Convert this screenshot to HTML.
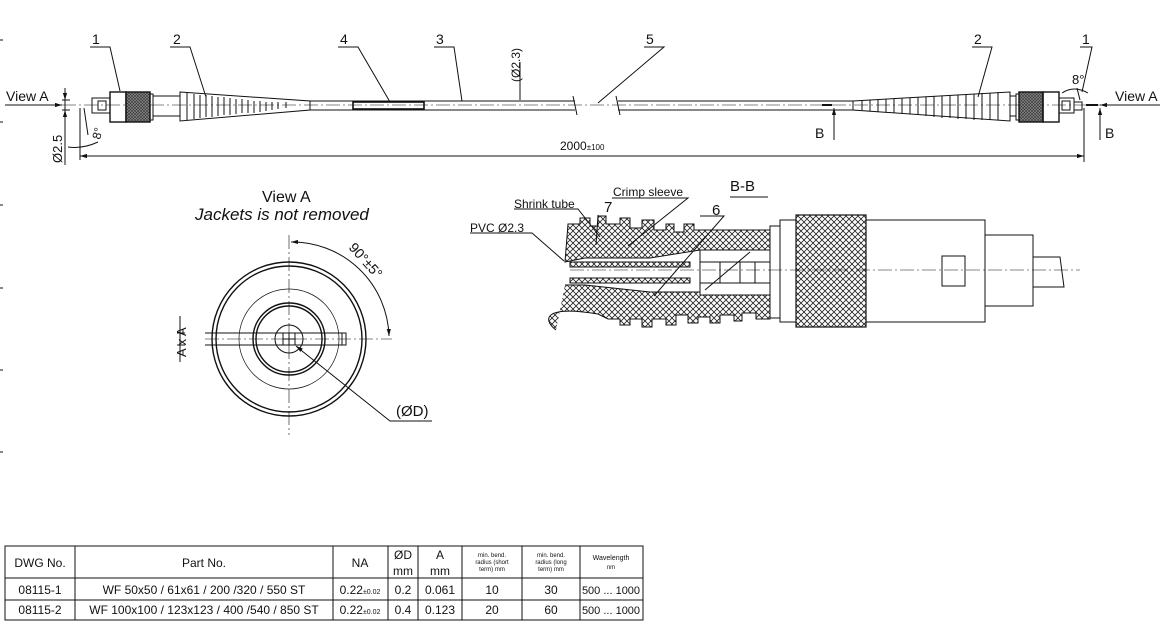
<!DOCTYPE html>
<html><head><meta charset="utf-8"><style>
body{margin:0;background:#fff;width:1166px;height:627px;overflow:hidden}
svg{display:block}
text{font-family:"Liberation Sans",sans-serif;fill:#111}
</style></head><body>
<svg width="1166" height="627" viewBox="0 0 1166 627" xmlns="http://www.w3.org/2000/svg">
<defs>
<pattern id="h" width="6" height="6" patternUnits="userSpaceOnUse"><rect width="6" height="6" fill="#fff"/><path d="M0,6L6,0M0,0L6,6" stroke="#222" stroke-width="0.8"/></pattern>
<pattern id="k" width="3" height="3" patternUnits="userSpaceOnUse"><rect width="3" height="3" fill="#888"/><path d="M0,3L3,0M0,0L3,3" stroke="#333" stroke-width="0.6"/></pattern>
<marker id="a" viewBox="0 0 10 10" refX="10" refY="5" markerWidth="7" markerHeight="7" orient="auto-start-reverse"><path d="M0,2L10,5L0,8z" fill="#111"/></marker>
</defs>
<g stroke="#111" fill="none" stroke-width="1">
<path d="M0,40h3M0,122h3M0,205h3M0,288h3M0,370h3M0,452h3"/>
<path d="M62,105H1110" stroke-dasharray="14,3,2,3" stroke-width="0.6"/>
<rect x="92" y="98" width="18" height="15"/>
<rect x="98" y="101" width="8" height="9"/>
<rect x="110" y="92" width="16" height="30" stroke-width="1.4"/>
<rect x="126" y="92" width="24" height="30" fill="url(#k)" stroke-width="1.4"/>
<rect x="150" y="94" width="3" height="26"/>
<path d="M153,96H180M153,116H180"/>
<path d="M180,92L310,101V110L180,121Z"/>
<path d="M187,93v27M194,94v25M200,95v23M206,95v22M212,96v21M218,97v19M224,97v18M230,98v17M236,99v15M242,99v14M248,100v13M254,101v12M260,101v11M266,102v9M272,102v8M278,102v7M286,102v6"/>
<path d="M310,101H575M310,110H575M618,101H853M618,110H853"/>
<path d="M573,96l4,19M616,96l4,19"/>
<rect x="353" y="102" width="71" height="7" stroke-width="1.6"/>
<path d="M853,101L1010,92V121L853,110Z"/>
<path d="M862,101v9M870,100v11M878,100v12M886,99v13M894,99v14M902,98v15M910,98v16M918,97v18M926,97v19M934,96v21M942,96v22M950,95v23M958,95v24M966,94v25M974,94v26M982,93v27M990,93v27M998,92v28"/>
<path d="M1010,96H1016M1010,116H1016"/>
<rect x="1016" y="94" width="3" height="26"/>
<rect x="1019" y="92" width="24" height="30" fill="url(#k)" stroke-width="1.4"/>
<rect x="1043" y="92" width="16" height="30" stroke-width="1.4"/>
<rect x="1059" y="98" width="15" height="15"/>
<rect x="1062" y="101" width="8" height="9"/>
<path d="M1074,102h8v8h-8" />
<path d="M822,105h10" stroke-width="2"/><path d="M1086,105h12" stroke-width="2"/>
<path d="M834,140V108" marker-end="url(#a)"/><path d="M1100,140V108" marker-end="url(#a)"/>
<path d="M5,105H62" marker-end="url(#a)"/><path d="M1160,105H1100" marker-end="url(#a)"/>
<path d="M80,108V160M1084,108V162"/>
<path d="M80,156H1084" marker-start="url(#a)" marker-end="url(#a)"/>
<path d="M65,88V165M62,100h8M62,110h8"/>
<path d="M65,92V100" marker-end="url(#a)"/><path d="M65,120V110" marker-end="url(#a)"/>
<path d="M84,108l4,27M68,147q15,2,30,-5"/>
<path d="M1080,100l-3,-12M1062,93q12,-8,26,0"/>
<path d="M90,47h20l10,44M170,47h20l16,50M338,47h20l32,55M434,47h20l8,54M644,47h20l-66,56M972,47h20l-14,50M1080,47h12l-10,45"/>
<path d="M520,62V100"/>
<circle cx="289" cy="339" r="77" stroke-width="1.4"/>
<circle cx="289" cy="339" r="73" stroke-width="1.4"/>
<circle cx="289" cy="339" r="50" stroke-width="0.7"/>
<circle cx="289" cy="339" r="36" stroke-width="1.4"/>
<circle cx="289" cy="339" r="33" stroke-width="1.4"/>
<circle cx="289" cy="339" r="14"/>
<rect x="283" y="333" width="12" height="12"/><path d="M289,333v12M283,339h12"/>
<path d="M289,235V435M205,339H392" stroke-dasharray="14,3,2,3" stroke-width="0.6"/>
<path d="M205,333H342M205,345H342"/><rect x="342" y="333" width="4" height="12"/>
<path d="M180,316V362M177,333h8M177,345h8"/>
<path d="M291,242A97,97 0 0 1 389,336" marker-start="url(#a)" marker-end="url(#a)"/>
<path d="M297,347L390,421H432"/>
<path d="M300,349l-4,-3" marker-end="url(#a)"/>
<path d="M730,197h38"/>
<path d="M568,224h12v-6h10v8h8v-10h8v8h14v-6h10v10h12v-8h12v10h12v-6h8v8h10v-8h10v6H770V250H700L650,258H585L565,262Z" fill="url(#h)"/>
<path d="M565,285H585L650,292H700V295H770V319H756v-6h-14v8h-8v-6h-14v8h-10v-6h-12v6h-10v-8h-12v10h-10v-6h-14v8h-10v-8h-12v6h-10v-6h-12l-10,-5C542,305,543,320,556,330" fill="url(#h)"/>
<path d="M570,262H690V267H570ZM570,278H690V283H570Z" fill="url(#h)"/>
<path d="M700,250H770V262H700ZM700,283H770V295H700Z" fill="none"/>
<path d="M700,262V283M720,262V283M740,262V283M755,262V283M705,290L750,252"/>
<rect x="770" y="226" width="10" height="92"/>
<rect x="780" y="220" width="205" height="102"/>
<rect x="796" y="215" width="70" height="112" fill="url(#h)" stroke-width="1.2"/>
<rect x="985" y="235" width="48" height="71"/>
<rect x="942" y="256" width="23" height="30"/>
<path d="M1033,257H1060l4,30H1033"/>
<path d="M570,270H1080" stroke-dasharray="14,3,2,3" stroke-width="0.6"/>
<path d="M514,209h64l22,28M470,233h62l32,28M612,198h76l-60,48M700,216h24l-70,80M598,215l-2,30"/>
<g stroke-width="1">
<rect x="5" y="546" width="638" height="74"/>
<path d="M5,578H643M5,600H643M75,546V620M333,546V620M388,546V620M418,546V620M462,546V620M522,546V620M580,546V620"/>
</g>
</g>
<g font-size="14">
<text x="6" y="101">View A</text><text x="1115" y="101">View A</text>
<text x="92" y="44">1</text><text x="173" y="44">2</text><text x="340" y="44">4</text><text x="436" y="44">3</text><text x="646" y="44">5</text><text x="974" y="44">2</text><text x="1082" y="44">1</text>
<text x="815" y="138">B</text><text x="1105" y="138">B</text>
<text x="1072" y="84" font-size="13">8°</text>
<text transform="translate(62,163) rotate(-90)" font-size="13">Ø2.5</text>
<text transform="translate(100,140) rotate(-75)" font-size="12">8°</text>
<text transform="translate(520,82) rotate(-90)" font-size="12">(Ø2.3)</text>
<text x="560" y="150" font-size="12">2000<tspan font-size="8">±100</tspan></text>
<text x="262" y="202" font-size="16">View A</text>
<text x="195" y="220" font-size="17" font-style="italic">Jackets is not removed</text>
<text transform="translate(348,248) rotate(48)" font-size="14">90°±5°</text>
<text transform="translate(186,357) rotate(-90)" font-size="13">A x A</text>
<text x="396" y="416" font-size="15">(ØD)</text>
<text x="730" y="191" font-size="15">B-B</text>
<text x="514" y="208" font-size="12">Shrink tube</text>
<text x="613" y="196" font-size="12">Crimp sleeve</text>
<text x="470" y="232" font-size="12">PVC Ø2.3</text>
<text x="604" y="212" font-size="15">7</text><text x="712" y="215" font-size="15">6</text>
</g>
<g font-size="12" text-anchor="middle">
<text x="40" y="567">DWG No.</text><text x="204" y="567">Part No.</text><text x="360" y="567">NA</text>
<text x="403" y="559">ØD</text><text x="403" y="575">mm</text><text x="440" y="559">A</text><text x="440" y="575">mm</text>
<text x="492" y="557" font-size="6">min. bend.</text><text x="492" y="564" font-size="6">radius (short</text><text x="492" y="571" font-size="6">term) mm</text>
<text x="551" y="557" font-size="6">min. bend.</text><text x="551" y="564" font-size="6">radius (long</text><text x="551" y="571" font-size="6">term) mm</text>
<text x="611" y="560" font-size="7">Wavelength</text><text x="611" y="569" font-size="6">nm</text>
<text x="40" y="594">08115-1</text><text x="204" y="594">WF 50x50 / 61x61 / 200 /320 / 550 ST</text><text x="360" y="594">0.22<tspan font-size="7">±0.02</tspan></text><text x="403" y="594">0.2</text><text x="440" y="594">0.061</text><text x="492" y="594">10</text><text x="551" y="594">30</text><text x="611" y="594" font-size="11">500 ... 1000</text>
<text x="40" y="614">08115-2</text><text x="204" y="614">WF 100x100 / 123x123 / 400 /540 / 850 ST</text><text x="360" y="614">0.22<tspan font-size="7">±0.02</tspan></text><text x="403" y="614">0.4</text><text x="440" y="614">0.123</text><text x="492" y="614">20</text><text x="551" y="614">60</text><text x="611" y="614" font-size="11">500 ... 1000</text>
</g>
</svg>
</body></html>
